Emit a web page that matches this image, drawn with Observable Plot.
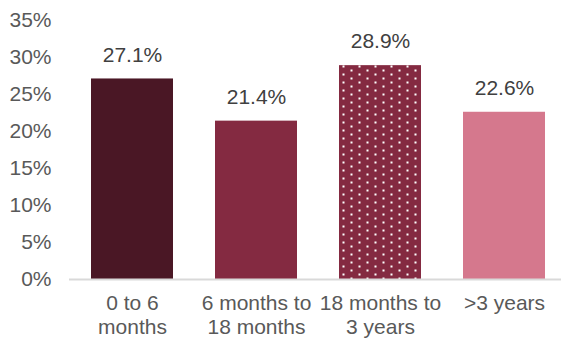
<!DOCTYPE html>
<html>
<head>
<meta charset="utf-8">
<script src="https://cdn.jsdelivr.net/npm/d3@7"></script>
<script src="https://cdn.jsdelivr.net/npm/@observablehq/plot@0.6"></script>
<style>
  html, body { margin: 0; padding: 0; background: #fff; }
  svg { font-family: "Liberation Sans", Arial, sans-serif; }
</style>
</head>
<body>
<div id="chart"></div>
<script>
const categories = ["0 to 6\nmonths", "6 months to\n18 months", "18 months to\n3 years", ">3 years"];
const values = [27.1, 21.4, 28.9, 22.6];
const colors = ["#4A1725", "#842A41", "url(#dots)", "#D5788D"];
const yTicks = [0, 5, 10, 15, 20, 25, 30, 35];

const data = categories.map((c, i) => ({cat: c, value: values[i], fill: colors[i]}));

const plot = Plot.plot({
  width: 561,
  height: 338,
  marginLeft: 69,
  marginRight: 0,
  marginTop: 20,
  marginBottom: 59,
  style: {fontSize: "21px", fontFamily: "Liberation Sans, Arial, sans-serif", background: "#fff"},
  x: {domain: categories, range: [69, 567], paddingInner: 0.335, paddingOuter: 0.1675},
  y: {domain: [0, 35]},
  marks: [
    Plot.axisY({ticks: yTicks, tickSize: 0, tickPadding: 18, tickFormat: d => d + "%", fill: "#595959", fontSize: 21, label: null}),
    Plot.axisX({tickSize: 0, tickPadding: 13, fill: "#595959", fontSize: 21, lineHeight: 1.15, label: null}),
    Plot.barY(data, {x: "cat", y: "value", fill: d => d.fill}),
    Plot.ruleY([0], {stroke: "#D9D9D9", strokeWidth: 2}),
    Plot.text(data, {x: "cat", y: "value", text: d => d.value.toFixed(1) + "%", dy: -24, lineAnchor: "middle", fill: "#404040", fontSize: 21})
  ]
});

const svg = d3.select(plot);
const defs = svg.insert("defs", ":first-child");
const pat = defs.append("pattern")
  .attr("id", "dots")
  .attr("patternUnits", "userSpaceOnUse")
  .attr("x", 339).attr("y", 0)
  .attr("width", 16).attr("height", 8);
pat.append("rect").attr("width", 16).attr("height", 8).attr("fill", "#842A41");
pat.append("rect").attr("x", 3.5).attr("y", 1.5).attr("width", 2).attr("height", 2).attr("fill", "#fff");
pat.append("rect").attr("x", 11.5).attr("y", 5.5).attr("width", 2).attr("height", 2).attr("fill", "#fff");

document.getElementById("chart").appendChild(plot);
</script>
</body>
</html>
